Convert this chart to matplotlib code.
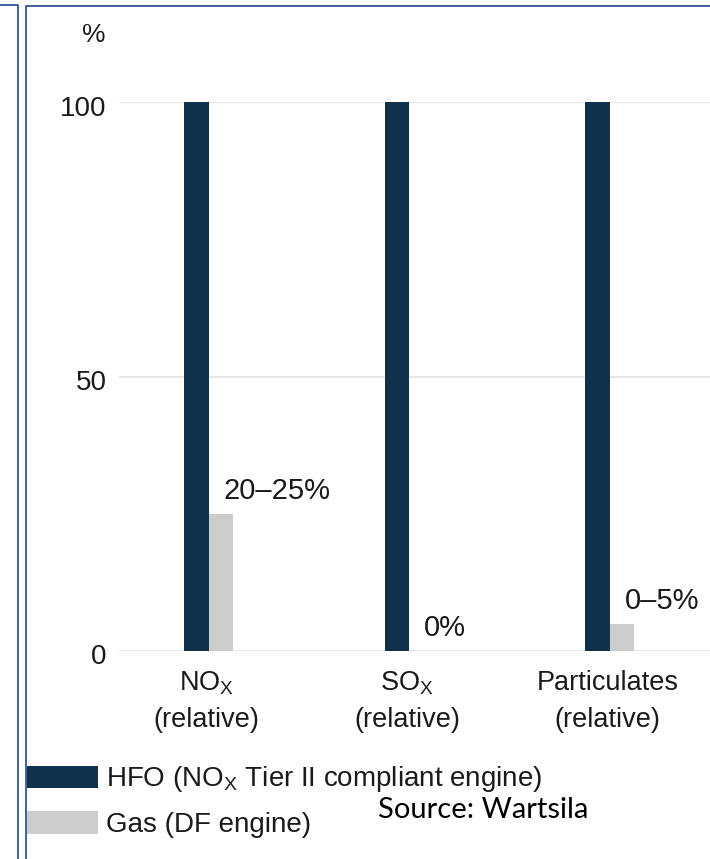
import matplotlib
matplotlib.use("Agg")
import matplotlib.pyplot as plt
from matplotlib.lines import Line2D
from matplotlib.transforms import ScaledTranslation

plt.rcParams["font.family"] = ["Liberation Sans", "DejaVu Sans"]
plt.rcParams["mathtext.fontset"] = "custom"
plt.rcParams["mathtext.rm"] = "Liberation Sans"

# Data
categories = ["NO$_\\mathregular{X}$", "SO$_\\mathregular{X}$", "Particulates"]
category_note = "(relative)"
hfo_values = [100, 100, 100]
gas_values = [25, 0, 5]
gas_labels = ["20–25%", "0%", "0–5%"]
series_names = ["HFO (NO$_\\mathregular{X}$ Tier II compliant engine)", "Gas (DF engine)"]
y_ticks = [0, 50, 100]

HFO_COLOR = "#10314b"
GAS_COLOR = "#cccccc"
GRID_COLOR = "#e3e3e3"
FRAME_COLOR = "#2f5496"
TEXT_COLOR = "#1a1a1a"

W, H = 710, 859
fig = plt.figure(figsize=(W / 100, H / 100), dpi=100)
fig.patch.set_facecolor("white")

ax_left, ax_right = 119, 710
ax_top, ax_bottom = 102, 651
ax = fig.add_axes([ax_left / W, 1 - ax_bottom / H, (ax_right - ax_left) / W,
                   (ax_bottom - ax_top) / H])

unit = 200.5
x0 = 208.5
ax.set_xlim(-(x0 - ax_left) / unit, (ax_right - x0) / unit)
ax.set_ylim(0, 100)
px_per_val = (ax_bottom - ax_top) / 100

bw = 24.5 / unit
xs = list(range(len(categories)))
ax.bar([x - bw / 2 for x in xs], hfo_values, width=bw, color=HFO_COLOR,
       label=series_names[0], zorder=3, clip_on=False)
ax.bar([x + bw / 2 for x in xs], gas_values, width=bw, color=GAS_COLOR,
       label=series_names[1], zorder=3, clip_on=False)

# value labels for the gas bars
for x, v, lab in zip(xs, gas_values, gas_labels):
    ax.annotate(lab, (x + bw / 2, v), xytext=(2, 16.5),
                textcoords="offset points", ha="left", va="center",
                fontsize=21, color=TEXT_COLOR)

# grid and axes styling
for s in ax.spines.values():
    s.set_visible(False)
ax.set_yticks(y_ticks)
ax.yaxis.grid(True, color=GRID_COLOR, lw=1.2, zorder=0)
ax.tick_params(axis="y", length=0, pad=9, labelsize=20, labelcolor=TEXT_COLOR)
for lab in ax.get_yticklabels():
    lab.set_transform(lab.get_transform() + ScaledTranslation(0, -0.035, fig.dpi_scale_trans))
ax.set_xticks([])

# category labels below the baseline
for x, cat in zip(xs, categories):
    ax.text(x - 0.01, -(683 - ax_bottom) / px_per_val, cat, ha="center",
            va="center", fontsize=19.5, color=TEXT_COLOR)
    ax.text(x - 0.01, -(720 - ax_bottom) / px_per_val, category_note, ha="center",
            va="center", fontsize=19.5, color=TEXT_COLOR)

fig.text(94 / W, 1 - 35 / H, "%", ha="center", va="center", fontsize=19,
         color=TEXT_COLOR)

# legend
fs = 20
em = fs * 100 / 72
handles, labels = ax.get_legend_handles_labels()
leg = fig.legend(handles, labels, loc="upper left",
                 bbox_to_anchor=(27 / W, 1 - 764.5 / H), frameon=False,
                 fontsize=fs, handlelength=71 / em, handleheight=24.5 / em,
                 handletextpad=8 / em, borderpad=0, borderaxespad=0,
                 labelspacing=0.59)
for t in leg.get_texts():
    t.set_color(TEXT_COLOR)

fig.text(378 / W, 1 - 810 / H, "Source: Wartsila", ha="left", va="center",
         fontsize=21, family="Lato", color="black")

# page frame lines
def fline(xs_, ys_):
    fig.add_artist(Line2D([v / W for v in xs_], [1 - v / H for v in ys_],
                          transform=fig.transFigure, color=FRAME_COLOR, lw=1.3))

fline([0, 18, 18], [5, 5, H])
fline([W, 26, 26], [6, 6, H])

fig.savefig("out.png", dpi=100, facecolor="white")
